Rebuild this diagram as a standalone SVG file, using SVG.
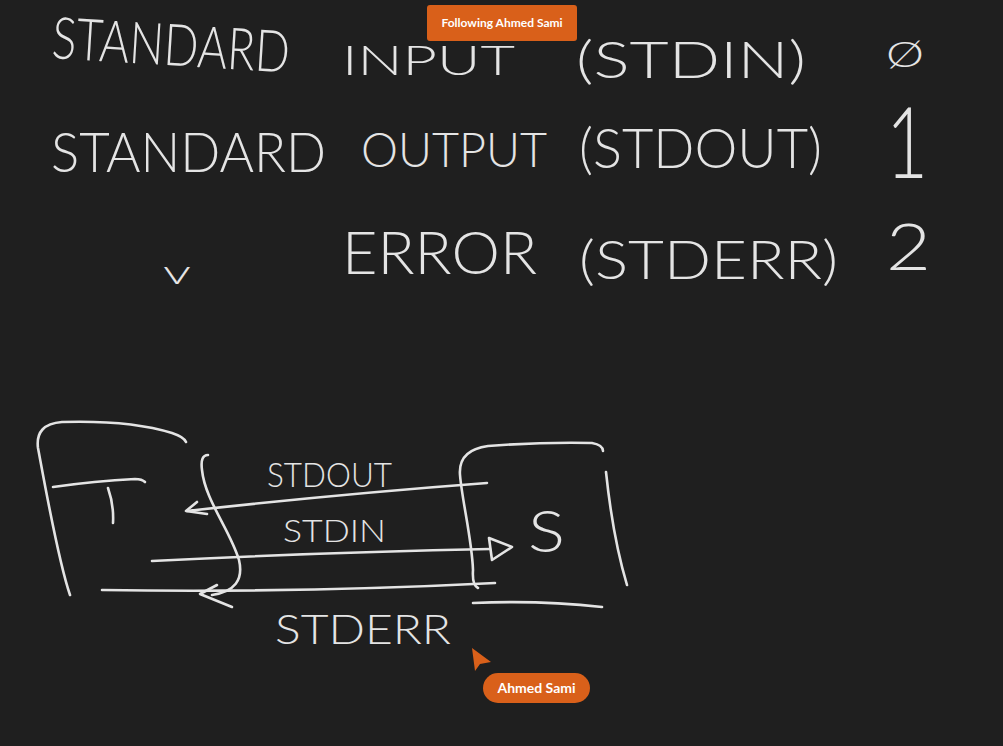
<svg xmlns="http://www.w3.org/2000/svg" width="1003" height="746" viewBox="0 0 1003 746">
<defs>
<style>
.ink{fill:none;stroke:#e4e4e4;stroke-width:2.6;stroke-linecap:round;stroke-linejoin:round}
.hw{fill:#e4e4e4;font-family:"Lato","Open Sans","Liberation Sans",sans-serif;font-weight:300}
.badge{fill:#d9601a}
.bt{fill:#ffffff;font-family:"Lato","Open Sans","Liberation Sans",sans-serif;font-weight:700;text-anchor:middle}
</style>
</defs>
<rect width="1003" height="746" fill="#1f1f1f"/>

<g id="legend">
<text class="hw" x="51" y="58" font-size="58" textLength="238" lengthAdjust="spacingAndGlyphs" transform="rotate(3.5 51 58)">STANDARD</text>
<text class="hw" x="342" y="75" font-size="41" textLength="173" lengthAdjust="spacingAndGlyphs">INPUT</text>
<text class="hw" x="576" y="78" font-size="52" textLength="230" lengthAdjust="spacingAndGlyphs">(STDIN)</text>
<text class="hw" x="886" y="67" font-size="36" textLength="38" lengthAdjust="spacingAndGlyphs">Ø</text>

<text class="hw" x="51" y="172" font-size="55" textLength="275" lengthAdjust="spacingAndGlyphs">STANDARD</text>
<text class="hw" x="361" y="167" font-size="48" textLength="186" lengthAdjust="spacingAndGlyphs">OUTPUT</text>
<text class="hw" x="579" y="168" font-size="56" textLength="243" lengthAdjust="spacingAndGlyphs">(STDOUT)</text>
<text class="hw" x="886" y="178" font-size="98" textLength="42" lengthAdjust="spacingAndGlyphs">1</text>

<text class="hw" x="163" y="284" font-size="34" textLength="28" lengthAdjust="spacingAndGlyphs">v</text>
<text class="hw" x="342" y="274" font-size="60" textLength="195" lengthAdjust="spacingAndGlyphs">ERROR</text>
<text class="hw" x="579" y="279" font-size="54" textLength="259" lengthAdjust="spacingAndGlyphs">(STDERR)</text>
<text class="hw" x="886" y="270" font-size="66" textLength="45" lengthAdjust="spacingAndGlyphs">2</text>
</g>

<g id="node-T">
<path class="ink" d="M70,595 C58,560 44,480 38,448 Q35,424 62,422 Q130,420 172,433 Q184,437 186,442"/>
<path class="ink" d="M53,487 Q95,481 135,479 Q142,479 145,482"/>
<path class="ink" d="M108,488 Q114,505 113,523"/>
</g>

<g id="node-S">
<path class="ink" d="M478,588 Q472,585 473,570 C472,540 462,500 460,475 Q458,450 488,446 Q540,442 592,443 Q603,445 603,451"/>
<path class="ink" d="M606,472 C610,510 618,555 627,585"/>
<path class="ink" d="M473,603 Q540,600 602,607"/>
<text class="hw" x="528" y="552" font-size="58" textLength="37" lengthAdjust="spacingAndGlyphs">S</text>
</g>

<g id="connectors">
<path class="ink" d="M208,455 Q200,455 202,470 C205,500 230,530 239,560 Q246,590 212,595"/>
<path class="ink" d="M487,483 Q340,494 187,511"/>
<path class="ink" d="M197,502 L186,511 L207,514"/>
<path class="ink" d="M152,561 Q330,552 490,549"/>
<path class="ink" d="M489,538 L512,547 L492,560 Z" stroke-width="3.2"/>
<path class="ink" d="M102,590 Q300,593 495,583"/>
<path class="ink" d="M217,585 L200,594 L232,607"/>
<text class="hw" x="267" y="487" font-size="34" textLength="125" lengthAdjust="spacingAndGlyphs">STDOUT</text>
<text class="hw" x="283" y="542" font-size="31" textLength="103" lengthAdjust="spacingAndGlyphs">STDIN</text>
<text class="hw" x="275" y="644" font-size="42" textLength="176" lengthAdjust="spacingAndGlyphs">STDERR</text>
</g>

<g id="badge-following">
<rect class="badge" x="427" y="5" width="150" height="36" rx="3"/>
<text class="bt" x="502" y="27" font-size="12">Following Ahmed Sami</text>
</g>

<g id="cursor">
<path class="badge" d="M472,648 L491,662 L480,664 L475,671 Z"/>
<rect class="badge" x="483" y="673" width="107" height="30" rx="15"/>
<text class="bt" x="536.5" y="693" font-size="14">Ahmed Sami</text>
</g>
</svg>
